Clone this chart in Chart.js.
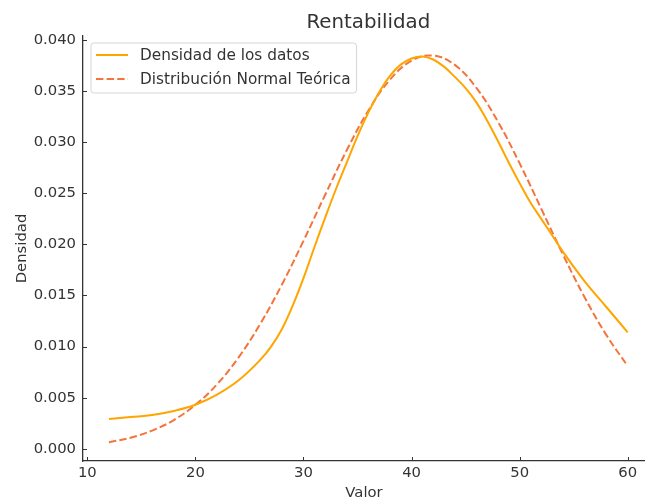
<!DOCTYPE html>
<html>
<head>
<meta charset="utf-8">
<script src="https://cdn.jsdelivr.net/npm/chart.js@4/dist/chart.umd.min.js"></script>
<style>
  html, body { margin: 0; padding: 0; background: #fff; }
  #wrap { width: 645px; height: 502px; position: relative; }
</style>
</head>
<body>
<div id="wrap"><canvas id="c" width="645" height="502"></canvas></div>
<script>
const chartTitle = 'Rentabilidad';
const xTitle = 'Valor';
const yTitle = 'Densidad';
const seriesNames = ['Densidad de los datos', 'Distribución Normal Teórica'];

const kdeX = [12, 14, 16, 18, 20, 22, 24, 26, 27, 28, 29, 30, 31, 32, 33, 34, 35, 36, 37, 38, 39, 40, 41, 42, 43, 44, 45, 46, 47, 48, 49, 50, 51, 52, 53, 54, 56, 58, 60];
const densidadDatos = [0.0029, 0.0031, 0.0033, 0.0037, 0.0043, 0.0053, 0.0067, 0.0087, 0.0100, 0.0117, 0.0140, 0.0167, 0.0197, 0.0226, 0.0254, 0.0280, 0.0306, 0.0329, 0.0349, 0.0365, 0.0376, 0.0382, 0.0384, 0.0381, 0.0374, 0.0364, 0.0353, 0.0339, 0.0321, 0.0301, 0.0280, 0.0260, 0.0241, 0.0225, 0.0209, 0.0193, 0.0164, 0.0139, 0.0114];

const normalX = [12, 14, 16, 18, 20, 22, 24, 26, 28, 30, 32, 34, 36, 38, 40, 42, 44, 46, 48, 50, 52, 54, 56, 58, 60];
const normalTeorica = [0.00063, 0.00108, 0.00178, 0.00281, 0.00430, 0.00631, 0.00895, 0.01222, 0.01606, 0.02035, 0.02484, 0.02921, 0.03309, 0.03612, 0.03798, 0.03848, 0.03757, 0.03532, 0.03200, 0.02793, 0.02349, 0.01903, 0.01485, 0.01117, 0.00809];

const xTicks = [10, 20, 30, 40, 50, 60];
const yTicks = [0.000, 0.005, 0.010, 0.015, 0.020, 0.025, 0.030, 0.035, 0.040];

const FONT = 'DejaVu Sans';
const TEXT = '#333333';
const SPINE = '#333333';

const pts = (xs, ys) => xs.map((x, i) => ({ x: x, y: ys[i] }));

const decor = {
  id: 'decor',
  afterDraw(chart) {
    const ctx = chart.ctx;
    const ca = chart.chartArea;
    const xs = chart.scales.x, ys = chart.scales.y;
    ctx.save();
    ctx.strokeStyle = SPINE;
    ctx.lineWidth = 1;
    xTicks.forEach(v => {
      const px = Math.round(xs.getPixelForValue(v)) + 0.5;
      ctx.beginPath(); ctx.moveTo(px, ca.bottom); ctx.lineTo(px, ca.bottom - 4); ctx.stroke();
    });
    yTicks.forEach(v => {
      const py = Math.round(ys.getPixelForValue(v)) + 0.5;
      ctx.beginPath(); ctx.moveTo(ca.left, py); ctx.lineTo(ca.left + 4, py); ctx.stroke();
    });
    ctx.fillStyle = TEXT;
    ctx.font = '19.8px "' + FONT + '"';
    ctx.textAlign = 'center';
    ctx.textBaseline = 'alphabetic';
    const cx = (xs.getPixelForValue(xs.min) + xs.getPixelForValue(62.4)) / 2;
    ctx.fillText(chartTitle, cx, 28);
    ctx.font = '15.3px "' + FONT + '"';
    const bx = ca.left + 8, by = ca.top + 7;
    let tw = 0;
    chart.data.datasets.forEach(d => { tw = Math.max(tw, ctx.measureText(d.label).width); });
    const bw = 49 + tw + 6, bh = 50;
    const r = 3;
    ctx.beginPath();
    ctx.moveTo(bx + r, by);
    ctx.lineTo(bx + bw - r, by); ctx.arcTo(bx + bw, by, bx + bw, by + r, r);
    ctx.lineTo(bx + bw, by + bh - r); ctx.arcTo(bx + bw, by + bh, bx + bw - r, by + bh, r);
    ctx.lineTo(bx + r, by + bh); ctx.arcTo(bx, by + bh, bx, by + bh - r, r);
    ctx.lineTo(bx, by + r); ctx.arcTo(bx, by, bx + r, by, r);
    ctx.closePath();
    ctx.fillStyle = 'rgba(255,255,255,0.8)';
    ctx.fill();
    ctx.strokeStyle = 'rgba(204,204,204,0.8)';
    ctx.lineWidth = 1;
    ctx.stroke();
    chart.data.datasets.forEach((d, i) => {
      const yy = by + 12 + i * 24;
      ctx.save();
      ctx.strokeStyle = d.borderColor;
      ctx.lineWidth = d.borderWidth;
      ctx.setLineDash(d.borderDash || []);
      ctx.beginPath(); ctx.moveTo(bx + 5, yy); ctx.lineTo(bx + 37, yy); ctx.stroke();
      ctx.restore();
      ctx.fillStyle = TEXT;
      ctx.textAlign = 'left';
      ctx.textBaseline = 'middle';
      ctx.fillText(d.label, bx + 49, yy + 1);
    });
    ctx.restore();
  }
};

new Chart(document.getElementById('c'), {
  type: 'line',
  data: {
    datasets: [
      {
        label: seriesNames[0],
        data: pts(kdeX, densidadDatos),
        borderColor: '#FFA500',
        borderWidth: 2,
        pointRadius: 0,
        fill: false,
        tension: 0.4
      },
      {
        label: seriesNames[1],
        data: pts(normalX, normalTeorica),
        borderColor: '#F4743C',
        borderWidth: 2,
        borderDash: [7.4, 3.2],
        pointRadius: 0,
        fill: false,
        tension: 0.4
      }
    ]
  },
  options: {
    responsive: false,
    animation: false,
    devicePixelRatio: 1,
    layout: { padding: { top: 36, left: 0, right: 0, bottom: 0 } },
    plugins: {
      legend: { display: false },
      title: { display: false },
      tooltip: { enabled: false }
    },
    scales: {
      x: {
        type: 'linear',
        min: 9.6,
        max: 61.6,
        afterFit(s) { s.height = 41; },
        afterBuildTicks(s) { s.ticks = xTicks.map(v => ({ value: v })); },
        grid: { display: false, drawTicks: false },
        border: { display: true, color: SPINE, width: 1.3 },
        ticks: {
          color: TEXT,
          font: { family: FONT, size: 14.8 },
          padding: 3,
          maxRotation: 0,
          callback: (v) => String(v)
        },
        title: {
          display: true,
          text: xTitle,
          color: TEXT,
          font: { family: FONT, size: 14.8 },
          padding: { top: 2, bottom: 0 }
        }
      },
      y: {
        type: 'linear',
        min: -0.0012,
        max: 0.0404,
        afterFit(s) { s.width = 83; },
        afterBuildTicks(s) { s.ticks = yTicks.map(v => ({ value: v })); },
        grid: { display: false, drawTicks: false },
        border: { display: true, color: SPINE, width: 1.3 },
        ticks: {
          color: TEXT,
          font: { family: FONT, size: 14.8 },
          padding: 7,
          callback: (v) => Number(v).toFixed(3)
        },
        title: {
          display: true,
          text: yTitle,
          color: TEXT,
          font: { family: FONT, size: 14.8 },
          padding: { top: 13, bottom: 0 }
        }
      }
    }
  },
  plugins: [decor]
});
</script>
</body>
</html>
